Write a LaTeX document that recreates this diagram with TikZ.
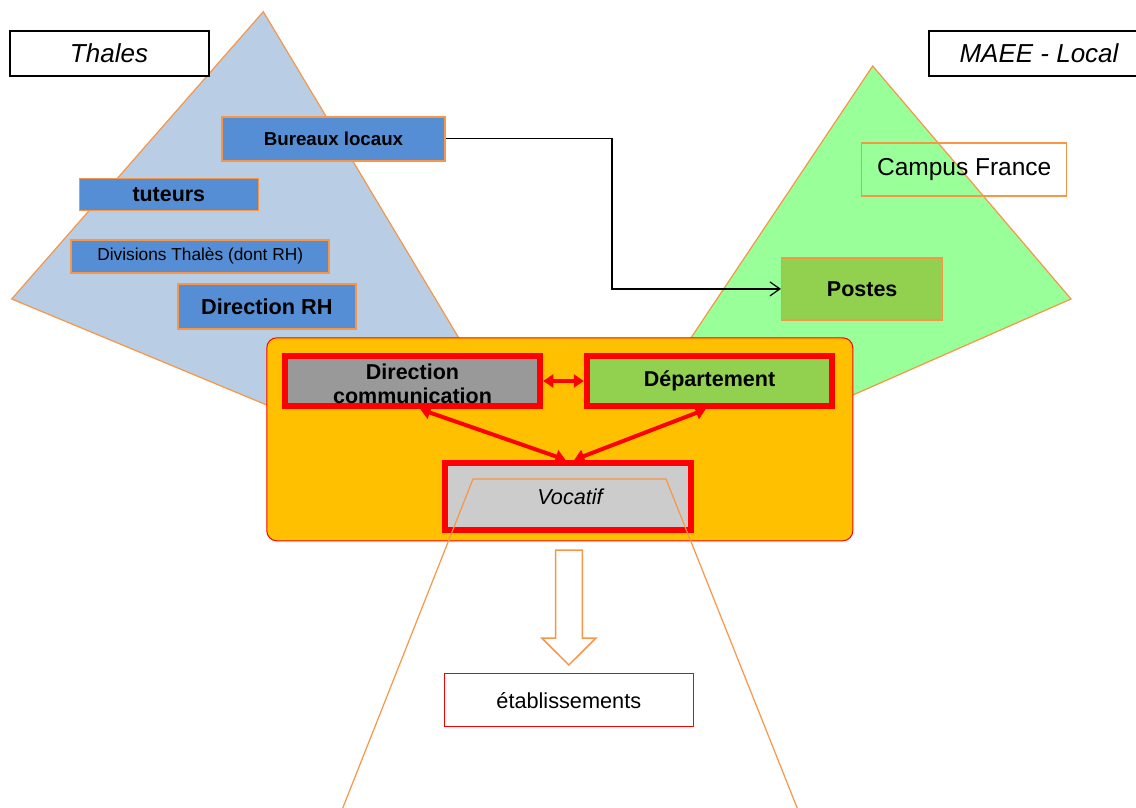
\documentclass[tikz,border=0pt]{standalone}
\usepackage{fontspec}
\setmainfont{Liberation Sans}
\usetikzlibrary{arrows.meta,calc}
\definecolor{triblue}{HTML}{B9CDE5}
\definecolor{boxblue}{HTML}{558ED5}
\definecolor{borderorange}{HTML}{F79646}
\definecolor{trigreen}{HTML}{99FF99}
\definecolor{boxgreen}{HTML}{92D050}
\definecolor{zoneorange}{HTML}{FFC000}
\definecolor{midgray}{HTML}{999999}
\definecolor{lightgray}{HTML}{CCCCCC}
\definecolor{pured}{HTML}{FF0000}
\tikzset{
  titlebox/.style={draw=black, line width=2pt, fill=white, inner sep=0pt, font=\fontsize{26}{30}\selectfont\itshape},
  bluebox/.style={draw=borderorange, line width=1.5pt, fill=boxblue, inner sep=0pt},
  redbox/.style={draw=pured, line width=6.5pt, inner sep=0pt, font=\fontsize{21.5}{24}\selectfont\bfseries, align=center},
  redarrow/.style={draw=pured, line width=4pt, {Triangle[length=10pt,width=13pt]}-{Triangle[length=10pt,width=13pt]}},
  tri/.style={draw=borderorange, line width=1.2pt, line join=miter},
}
\begin{document}
\begin{tikzpicture}[x=1pt,y=-1pt]
\useasboundingbox (0,0) rectangle (1136,807);
% triangles
\fill[triblue] (263.3,11.7) -- (11.7,299) -- (576,533.5) -- cycle;
\draw[tri] (263.3,11.7) -- (11.7,299) -- (576,533.5) -- cycle;
\fill[trigreen] (872.7,66) -- (1071,299) -- (569.2,520) -- cycle;
\draw[tri] (872.7,66) -- (1071,299) -- (569.2,520) -- cycle;
% title boxes
\node[titlebox, minimum width=199, minimum height=45] (thales) at (109,53.2) {\raisebox{-3pt}{Thales}};
\node[titlebox, minimum width=220, minimum height=45] (maee) at (1039,53.2) {\raisebox{-3pt}{MAEE - Local}};
% Thales boxes
\node[bluebox, minimum width=223, minimum height=44, font=\fontsize{18.7}{22}\selectfont\bfseries] (bureaux) at (333.5,138.8) {Bureaux locaux};
\node[bluebox, minimum width=179, minimum height=32, font=\fontsize{21.4}{24}\selectfont\bfseries] (tuteurs) at (168.8,194.5) {\raisebox{-1pt}{tuteurs}};
\node[bluebox, minimum width=258, minimum height=33, font=\fontsize{17.3}{20}\selectfont] (divisions) at (200.2,256.3) {\raisebox{-1.5pt}{Divisions Thalès (dont RH)}};
\node[bluebox, minimum width=178, minimum height=45, font=\fontsize{21.7}{24}\selectfont\bfseries] (dirrh) at (266.8,306.7) {Direction RH};
% MAEE boxes
\node[draw=borderorange, line width=1.5pt, inner sep=0pt, minimum width=205, minimum height=53, font=\fontsize{24.5}{28}\selectfont] (campus) at (964.2,169.7) {\raisebox{2pt}{Campus France}};
\node[draw=borderorange, line width=1.5pt, fill=boxgreen, inner sep=0pt, minimum width=161, minimum height=62, font=\fontsize{21.5}{24}\selectfont\bfseries] (postes) at (862.2,288.9) {\raisebox{-1pt}{Postes}};
% connector
\coordinate (bend) at (612,0);
\draw[black, line width=1.2pt, -{Straight Barb[length=10pt,width=14pt]}] (bureaux.east) -- (bureaux.east -| bend) |- (postes.west);
% central zone
\node[draw=pured, line width=1pt, fill=zoneorange, rounded corners=10pt, minimum width=586, minimum height=203, inner sep=0pt] (zone) at (559.8,439.3) {};
\node[redbox, fill=midgray, minimum width=255, minimum height=50] (dircom) at (412.5,381) {};
\node[font=\fontsize{21.5}{24}\selectfont\bfseries, align=center, inner sep=0pt] (dircomtext) at (412.5,383.5) {Direction\\communication};
\node[redbox, fill=boxgreen, minimum width=245, minimum height=50] (dept) at (709.5,381) {\raisebox{-2pt}{Département}};
\node[redbox, fill=lightgray, minimum width=246, minimum height=67] (voc) at (568,496.5) {};
% trapezoid
\draw[draw=borderorange, line width=1.2pt] (338,820) -- (473,479) -- (666,479) -- (802,820);
\node[font=\fontsize{21.6}{24}\selectfont\itshape, inner sep=0pt] (voctext) at (570,497) {Vocatif};
% red arrows
\draw[redarrow] (dircom.east) -- (dept.west);
\draw[redarrow] ($(dircom.south west)!0.53!(dircom.south east)$) -- ($(voc.north west)!0.49!(voc.north east)$);
\draw[redarrow] ($(dept.south west)!0.485!(dept.south east)$) -- ($(voc.north west)!0.525!(voc.north east)$);
% down arrow
\draw[draw=borderorange, fill=white, line width=1.5pt, line join=miter] (555.7,550) -- (582.3,550) -- (582.3,638) -- (596,638) -- (568.9,665) -- (541.7,638) -- (555.7,638) -- cycle;
\node[draw=pured, line width=1.5pt, fill=white, inner sep=0pt, minimum width=249, minimum height=53, font=\fontsize{21.7}{24}\selectfont] (etab) at (568.8,700.2) {établissements};
\end{tikzpicture}
\end{document}
